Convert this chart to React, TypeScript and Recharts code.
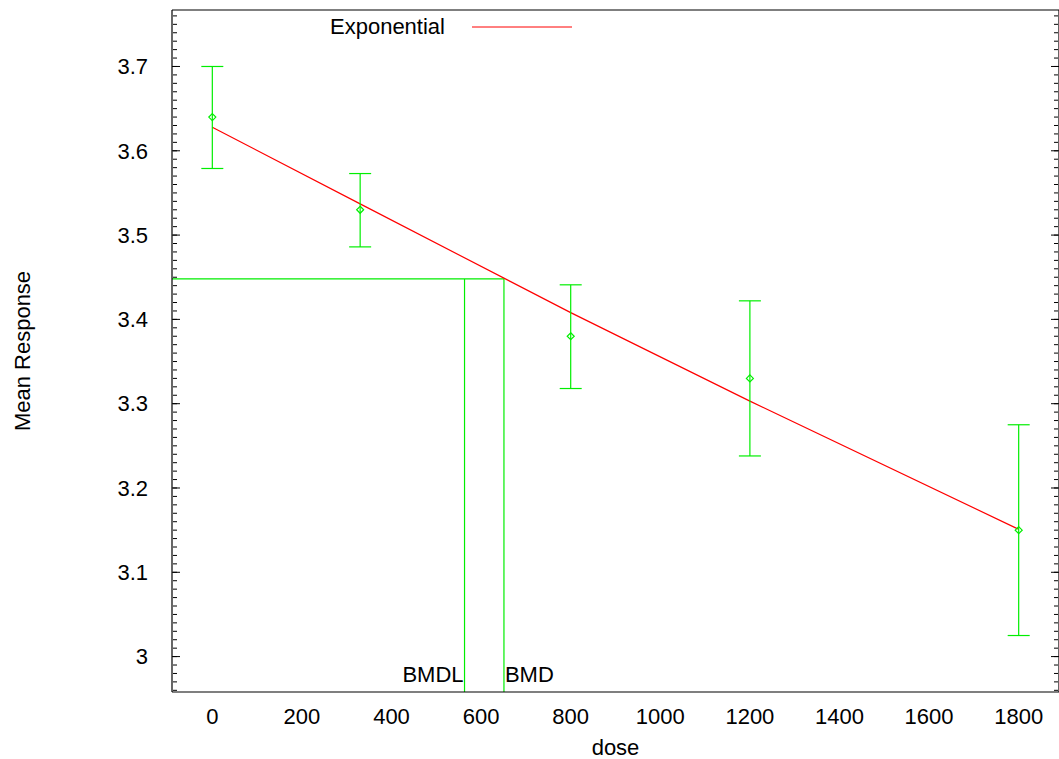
import {
  ComposedChart,
  Line,
  Scatter,
  ErrorBar,
  XAxis,
  YAxis,
  ReferenceLine,
  Legend,
  Label,
} from 'recharts';

// observed dose groups
const doses = [0, 330, 800, 1200, 1800];
const means = [3.64, 3.53, 3.38, 3.33, 3.15];
const lowerBounds = [3.579, 3.486, 3.318, 3.238, 3.025];
const upperBounds = [3.7, 3.573, 3.441, 3.422, 3.275];

// fitted exponential model read at the dose groups
const fitDoses = [0, 330, 800, 1200, 1800];
const fitValues = [3.628, 3.537, 3.408, 3.303, 3.151];

// benchmark dose
const bmr = 3.448;
const bmd = 651;
const bmdl = 563;

const xTicks = [0, 200, 400, 600, 800, 1000, 1200, 1400, 1600, 1800];
const yTicks = [3.0, 3.1, 3.2, 3.3, 3.4, 3.5, 3.6, 3.7];

const X_DOMAIN: [number, number] = [-90, 1890];
const Y_DOMAIN: [number, number] = [2.958, 3.767];

const GREEN = '#00ee00';
const RED = '#ff0000';
const FONT = '"Liberation Sans", Arial, Helvetica, sans-serif';

const minorTicks: number[] = [];
for (let i = 296; i <= 376; i++) minorTicks.push(i / 100);

const observed = doses.map((d, i) => ({
  dose: d,
  mean: means[i],
  err: [means[i] - lowerBounds[i], upperBounds[i] - means[i]],
}));

const fitted = fitDoses.map((d, i) => ({ dose: d, fit: fitValues[i] }));

// tick marks only, no text (gnuplot style inward ticks)
const NoLabel = () => <g />;

const Diamond = (props: any) => {
  const { cx, cy } = props;
  const r = 3.5;
  return (
    <polygon
      points={`${cx},${cy - r} ${cx + r},${cy} ${cx},${cy + r} ${cx - r},${cy}`}
      fill="none"
      stroke={GREEN}
      strokeWidth={1.2}
    />
  );
};

const YTitle = (props: any) => {
  const vb = props.viewBox || { y: 10, height: 682 };
  const x = 29.5;
  const y = vb.y + vb.height / 2;
  return (
    <text x={x} y={y} transform={`rotate(-90 ${x} ${y})`} textAnchor="middle" fontSize={22} fill="#000" fontFamily={FONT}>
      Mean Response
    </text>
  );
};

const XTitle = (props: any) => {
  const vb = props.viewBox || { x: 172, y: 692, width: 886 };
  return (
    <text x={vb.x + vb.width / 2} y={vb.y + 63} textAnchor="middle" fontSize={22} fill="#000" fontFamily={FONT}>
      dose
    </text>
  );
};

const bmdLabel = (text: string, side: 'left' | 'right') => (props: any) => {
  const vb = props.viewBox;
  if (!vb) return null;
  return (
    <text
      x={side === 'left' ? vb.x - 1 : vb.x + 1}
      y={vb.y + vb.height - 10}
      textAnchor={side === 'left' ? 'end' : 'start'}
      fontSize={22}
      fill="#000"
      fontFamily={FONT}
    >
      {text}
    </text>
  );
};

const LegendBox = () => (
  <div style={{ display: 'flex', alignItems: 'center', fontSize: 22, lineHeight: '26px', fontFamily: FONT, color: '#000' }}>
    <span>Exponential</span>
    <svg width={100} height={4} style={{ marginLeft: 27 }}>
      <line x1={0} y1={2} x2={100} y2={2} stroke={RED} strokeWidth={1} />
    </svg>
  </div>
);

export default function App() {
  const tickStyle = { fill: '#000', fontSize: 22, fontFamily: FONT };
  return (
    <div style={{ position: 'absolute', left: 0, top: 0, width: 1059, height: 759, overflow: 'hidden', background: '#fff' }}>
      <ComposedChart width={1060} height={759} margin={{ top: 10, right: 1, bottom: 0, left: 0 }} style={{ fontFamily: FONT }}>
        <XAxis
          xAxisId="x"
          dataKey="dose"
          type="number"
          domain={X_DOMAIN}
          ticks={xTicks}
          interval={0}
          allowDataOverflow
          height={67}
          tickLine={false}
          tickSize={8}
          tickMargin={8}
          tick={tickStyle}
          axisLine={{ stroke: '#000', strokeWidth: 1.2 }}
          label={<Label content={XTitle} />}
        />
        <XAxis
          xAxisId="xb"
          type="number"
          orientation="bottom"
          mirror
          domain={X_DOMAIN}
          ticks={xTicks}
          interval={0}
          allowDataOverflow
          height={1}
          tick={NoLabel}
          tickSize={8}
          tickLine={{ stroke: '#000' }}
          axisLine={false}
        />
        <XAxis
          xAxisId="xt"
          type="number"
          orientation="top"
          mirror
          domain={X_DOMAIN}
          ticks={xTicks}
          interval={0}
          allowDataOverflow
          height={1}
          tick={NoLabel}
          tickSize={8}
          tickLine={{ stroke: '#000' }}
          axisLine={{ stroke: '#000', strokeWidth: 1.2 }}
        />
        <YAxis
          yAxisId="y"
          type="number"
          domain={Y_DOMAIN}
          ticks={yTicks}
          interval={0}
          allowDataOverflow
          width={172}
          tickLine={false}
          tickSize={8}
          tickMargin={16}
          tick={tickStyle}
          axisLine={{ stroke: '#000', strokeWidth: 1.2 }}
          label={<Label content={YTitle} />}
        />
        <YAxis yAxisId="ylMaj" type="number" orientation="left" mirror domain={Y_DOMAIN} ticks={yTicks} interval={0} allowDataOverflow width={1} tick={NoLabel} tickSize={8} tickLine={{ stroke: '#000' }} axisLine={false} />
        <YAxis yAxisId="ylMin" type="number" orientation="left" mirror domain={Y_DOMAIN} ticks={minorTicks} interval={0} allowDataOverflow width={1} tick={NoLabel} tickSize={4} tickLine={{ stroke: '#000' }} axisLine={false} />
        <YAxis yAxisId="yrMaj" type="number" orientation="right" mirror domain={Y_DOMAIN} ticks={yTicks} interval={0} allowDataOverflow width={1} tick={NoLabel} tickSize={8} tickLine={{ stroke: '#000' }} axisLine={{ stroke: '#000', strokeWidth: 1.2 }} />
        <YAxis yAxisId="yrMin" type="number" orientation="right" mirror domain={Y_DOMAIN} ticks={minorTicks} interval={0} allowDataOverflow width={1} tick={NoLabel} tickSize={4} tickLine={{ stroke: '#000' }} axisLine={false} />

        <ReferenceLine
          xAxisId="x"
          yAxisId="y"
          segment={[{ x: X_DOMAIN[0], y: bmr }, { x: bmd, y: bmr }]}
          stroke={GREEN}
          strokeWidth={1.2}
          ifOverflow="visible"
        />
        <ReferenceLine
          xAxisId="x"
          yAxisId="y"
          segment={[{ x: bmdl, y: Y_DOMAIN[0] }, { x: bmdl, y: bmr }]}
          stroke={GREEN}
          strokeWidth={1.2}
          ifOverflow="visible"
          label={<Label content={bmdLabel('BMDL', 'left')} />}
        />
        <ReferenceLine
          xAxisId="x"
          yAxisId="y"
          segment={[{ x: bmd, y: Y_DOMAIN[0] }, { x: bmd, y: bmr }]}
          stroke={GREEN}
          strokeWidth={1.2}
          ifOverflow="visible"
          label={<Label content={bmdLabel('BMD', 'right')} />}
        />

        <Line
          xAxisId="x"
          yAxisId="y"
          data={fitted}
          dataKey="fit"
          type="linear"
          stroke={RED}
          strokeWidth={1.2}
          dot={false}
          activeDot={false}
          isAnimationActive={false}
          legendType="none"
        />
        <Scatter
          xAxisId="x"
          yAxisId="y"
          data={observed}
          dataKey="mean"
          shape={Diamond}
          isAnimationActive={false}
          legendType="none"
        >
          <ErrorBar dataKey="err" direction="y" width={11} stroke={GREEN} strokeWidth={1.2} isAnimationActive={false} />
        </Scatter>

        <Legend
          layout="vertical"
          align="center"
          verticalAlign="middle"
          wrapperStyle={{ position: 'absolute', left: 330, top: 14, width: 260, height: 26 }}
          content={LegendBox}
        />
      </ComposedChart>
    </div>
  );
}
